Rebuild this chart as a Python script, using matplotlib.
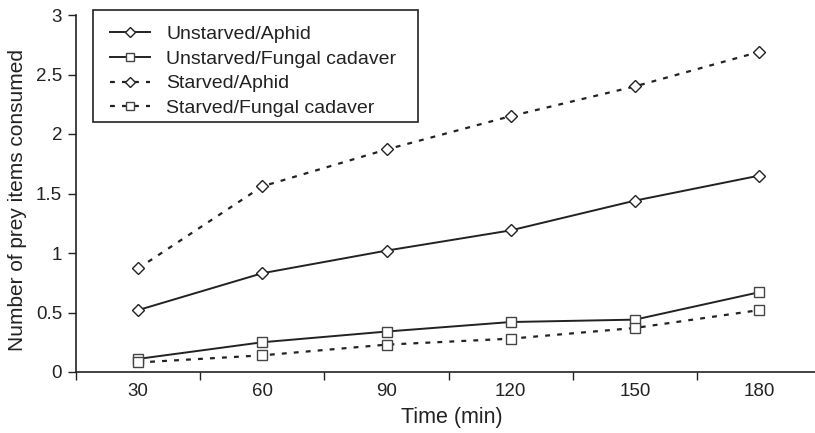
import matplotlib
matplotlib.use("Agg")
import matplotlib.pyplot as plt
from matplotlib.patches import Rectangle

times = ["30", "60", "90", "120", "150", "180"]
unstarved_aphid = [0.52, 0.83, 1.02, 1.19, 1.44, 1.65]
unstarved_fungal = [0.11, 0.25, 0.34, 0.42, 0.44, 0.67]
starved_aphid = [0.87, 1.56, 1.87, 2.15, 2.40, 2.69]
starved_fungal = [0.08, 0.14, 0.23, 0.28, 0.37, 0.52]
y_ticks = [0, 0.5, 1, 1.5, 2, 2.5, 3]
y_ticklabels = ["0", "0.5", "1", "1.5", "2", "2.5", "3"]

plt.rcParams['font.family'] = ['Liberation Sans', 'DejaVu Sans']

W, H = 815, 433
fig = plt.figure(figsize=(W / 100, H / 100), dpi=100)
left, bottom, top = 76, 372, 15
ax = fig.add_axes([left / W, (H - bottom) / H, (W - left) / W, (bottom - top) / H])

x = list(range(1, len(times) + 1))
ink = "#222222"
dotted = (0, (2.2, 3.2))
ax.plot(x, unstarved_aphid, color=ink, lw=1.4, marker="D", ms=6.5, mfc="white",
        mec=ink, mew=1.0, label="Unstarved/Aphid")
ax.plot(x, unstarved_fungal, color=ink, lw=1.4, marker="s", ms=7.5, mfc="white",
        mec="#444444", mew=1.0, label="Unstarved/Fungal cadaver")
ax.plot(x, starved_aphid, color=ink, lw=1.6, ls=dotted, marker="D", ms=6.5, mfc="white",
        mec=ink, mew=1.0, label="Starved/Aphid")
ax.plot(x, starved_fungal, color=ink, lw=1.6, ls=dotted, marker="s", ms=7.5, mfc="white",
        mec="#444444", mew=1.0, label="Starved/Fungal cadaver")

ax.set_xlim(0.5, 0.5 + (W - left) / 124.2)
ax.set_ylim(0, 3)
ax.spines['top'].set_visible(False)
ax.spines['right'].set_visible(False)
for s in ('left', 'bottom'):
    ax.spines[s].set_color(ink)
    ax.spines[s].set_linewidth(1.2)

ax.set_yticks(y_ticks)
ax.set_yticklabels(y_ticklabels, fontsize=13.5, color=ink)
ax.tick_params(axis='y', length=6, width=1.0, color=ink, pad=4)

ax.set_xticks(x)
ax.set_xticklabels(times, fontsize=13.5, color=ink)
ax.set_xticks([i + 0.5 for i in range(0, 6)], minor=True)
ax.tick_params(axis='x', which='major', length=0, pad=8)
ax.tick_params(axis='x', which='minor', length=6, width=1.0, color=ink)

ax.set_xlabel("Time (min)", fontsize=15.5, color=ink)
ax.xaxis.set_label_coords((452 - left) / (W - left), (bottom - 407) / (bottom - top))
ax.set_ylabel("Number of prey items consumed", fontsize=15, color=ink)
ax.yaxis.set_label_coords((27 - left) / (W - left), (bottom - 200) / (bottom - top))

leg = ax.legend(loc="upper left", bbox_to_anchor=(96 / W, 1 - 12 / H),
                bbox_transform=fig.transFigure,
                fontsize=14, frameon=False, handlelength=2.1, labelspacing=0.36,
                borderpad=0.2, handletextpad=0.8, markerscale=0.8)
for t in leg.get_texts():
    t.set_color(ink)
fig.patches.append(Rectangle((93 / W, 1 - 122 / H), (418 - 93) / W, (122 - 10) / H,
                             transform=fig.transFigure, fill=False, ec=ink, lw=1.2))

fig.savefig("out.png", dpi=100)
